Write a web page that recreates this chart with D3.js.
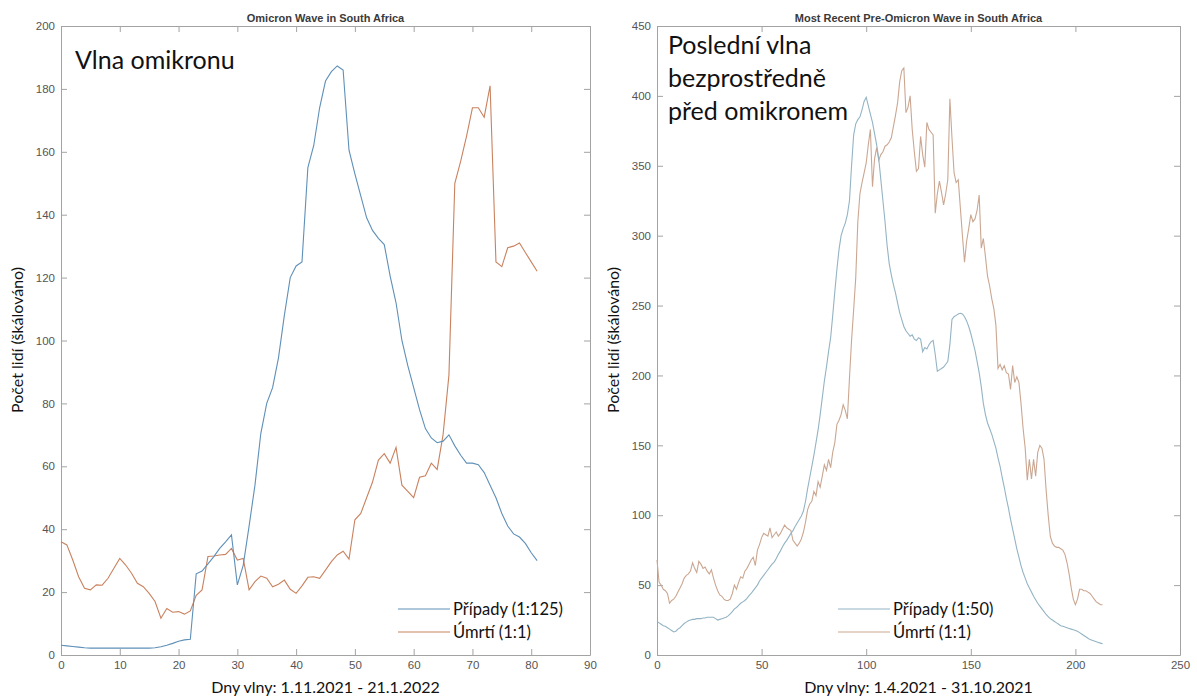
<!DOCTYPE html>
<html lang="en">

<head>
    <meta charset="utf-8">
    <script src="https://d3js.org/d3.v7.min.js"></script>
    <style>
        body { margin: 0; background: #fff; }
        .tick text { font-family: "Liberation Sans", Arial, sans-serif; font-size: 11.5px; fill: #555; }
        .tick line, .domain { stroke: #a3a3a3; }
    </style>
</head>

<body>
    <div id="chart"></div>

    <script>
        // ---- data: Omicron wave (days 0..81) ----
        const omiCases = [
            3.1, 2.9, 2.7, 2.5, 2.3, 2.2, 2.2, 2.2, 2.2, 2.2,
            2.2, 2.2, 2.2, 2.2, 2.2, 2.2, 2.3, 2.6, 3.1, 3.7,
            4.4, 4.8, 5.0, 25.8, 26.7, 29.0, 31.3, 33.9, 36.0, 38.2,
            22.3, 28.5, 41.0, 54.0, 70.5, 80.0, 85.0, 94.5, 108.0, 120.0,
            123.7, 125.0, 155.0, 162.0, 174.0, 182.5, 185.5, 187.3, 186.0, 160.5,
            153.0, 146.0, 139.0, 135.0, 132.5, 130.5, 120.5, 112.0, 100.0, 92.0,
            85.0, 78.0, 72.0, 69.0, 67.5, 68.0, 70.0, 66.5, 63.5, 61.0,
            61.0, 60.5, 58.0, 54.0, 50.0, 45.0, 41.0, 38.5, 37.5, 35.5,
            32.5, 30.0
        ];
        const omiDeaths = [
            36.0, 35.0, 30.2, 24.9, 21.2, 20.7, 22.3, 22.2, 24.4, 27.6,
            30.7, 28.6, 26.0, 22.8, 21.7, 19.6, 17.0, 11.7, 14.8, 13.6,
            13.8, 13.0, 14.0, 19.0, 20.7, 31.3, 31.5, 31.8, 32.0, 33.9,
            30.2, 30.7, 20.7, 23.3, 25.1, 24.4, 21.7, 22.5, 23.8, 20.9,
            19.6, 22.0, 24.7, 24.9, 24.4, 27.0, 29.7, 31.8, 33.0, 30.5,
            43.0, 45.0, 50.0, 55.0, 62.0, 64.0, 61.0, 66.0, 54.0, 52.0,
            50.0, 56.5, 57.0, 61.0, 59.0, 70.0, 89.0, 150.0, 157.0, 165.0,
            174.0, 174.0, 171.0, 181.0, 125.0, 123.5, 129.5, 130.0, 131.0, 128.0,
            125.0, 122.0
        ];

        // ---- data: pre-Omicron wave (days 0..213) ----
        const preCases = [
            24, 23, 22, 21, 20.5, 19.5, 18.5, 17.5, 16.5, 17,
            18.5, 19.5, 21, 22.5, 23.5, 24.5, 25, 25.5, 25.5, 26,
            26, 26, 26.5, 26.5, 27, 27, 27, 27, 26, 25,
            25.5, 26, 26.5, 27, 28, 29.5, 31, 33, 34, 35.5,
            37, 38, 39, 40.5, 42.5, 44, 46, 48, 50, 53,
            55, 57, 59, 61, 63, 65, 66.5, 69, 72, 74.5,
            77.5, 80, 82, 84.5, 87, 89, 92, 94.5, 97, 99.5,
            103, 110, 119, 127, 135, 143, 152, 161, 172, 184,
            196, 206, 217, 227, 243, 260, 276, 290, 300, 305,
            309, 315, 325, 350, 372, 380, 383, 385, 390, 396,
            399, 393, 387, 381, 373, 365, 355, 340, 325, 310,
            293, 280, 272, 265, 259, 252, 245, 240, 235, 232,
            230, 228, 229, 226, 225, 227, 226, 217, 220, 219,
            222, 224, 225, 215, 203, 204, 205, 206, 208, 210,
            222, 240, 242, 243, 244, 244.5, 244, 242, 239, 235,
            230, 224, 218, 210, 202, 192, 180, 172, 166, 162,
            158, 153, 148, 141, 135, 127, 120, 112, 105, 97,
            90, 83, 76, 70, 64, 59, 55, 51, 48, 45,
            42, 39.5, 37, 35, 33, 31, 29, 27.5, 26, 25,
            24, 23, 22, 21, 20.5, 20, 19.5, 19, 18.5, 18,
            17.5, 17, 16, 15, 14, 13, 12, 11, 10.5, 10,
            9.5, 9, 8.5, 8
        ];
        const preDeaths = [
            68, 52, 50, 47, 46, 44, 37, 39, 40, 42,
            45, 48, 51, 55, 57, 58, 60, 66, 62, 59,
            67, 65, 62, 63, 60, 58, 61, 55, 50, 46,
            43, 42, 40, 39, 39, 40, 44, 50, 47, 52,
            56, 55, 60, 62, 65, 68, 70, 64, 75, 79,
            84, 87, 86, 85, 91, 84, 86, 88, 85, 87,
            90, 93, 91, 90, 89, 82, 80, 78, 80, 83,
            88, 95, 104, 108, 110, 117, 114, 124, 120, 128,
            136, 132, 140, 134, 145, 152, 165, 168, 172, 179,
            175, 169, 198, 225, 247, 270, 310, 330, 338, 345,
            352, 365, 376, 335, 355, 363, 354, 358, 360, 364,
            365, 367, 370, 378, 386, 395, 410, 418, 420, 388,
            392, 400, 376, 360, 346, 348, 371, 358, 349, 381,
            376, 374, 372, 316, 330, 339, 331, 322, 330, 340,
            398, 370, 345, 338, 340, 320, 300, 281, 296, 305,
            315, 310, 312, 318, 329, 291, 298, 285, 271, 264,
            255, 248, 236, 205, 208, 204, 207, 202, 201, 190,
            207, 195, 199, 195, 180, 162, 148, 125, 140, 126,
            140, 128, 145, 150, 148, 140, 118, 100, 85, 80,
            78, 77, 77, 76, 75, 72, 66, 58, 48, 40,
            36, 40, 47, 47, 46, 46, 45, 44, 42, 40,
            38, 37, 36, 36
        ];

        const czFont = "Lato, 'Open Sans', sans-serif";

        const svg = d3.select("#chart").append("svg")
            .attr("width", 1197)
            .attr("height", 697);

        // draws one MATLAB-like panel
        function drawPanel(p) {
            const x = d3.scaleLinear().domain(p.xDomain).range([p.left, p.right]);
            const y = d3.scaleLinear().domain(p.yDomain).range([655, 26]);
            const g = svg.append("g");

            // box + inward ticks on all four sides
            g.append("g").attr("transform", "translate(0,655)")
                .call(d3.axisBottom(x).tickValues(p.xTicks).tickSizeInner(-6).tickSizeOuter(0).tickPadding(6));
            g.append("g").attr("transform", "translate(0,26)")
                .call(d3.axisTop(x).tickValues(p.xTicks).tickSizeInner(-6).tickSizeOuter(0).tickFormat(""));
            g.append("g").attr("transform", `translate(${p.left},0)`)
                .call(d3.axisLeft(y).tickValues(p.yTicks).tickSizeInner(-6).tickSizeOuter(0).tickPadding(6));
            g.append("g").attr("transform", `translate(${p.right},0)`)
                .call(d3.axisRight(y).tickValues(p.yTicks).tickSizeInner(-6).tickSizeOuter(0).tickFormat(""));

            const line = d3.line()
                .x((d, i) => x(i))
                .y(d => y(d));

            g.append("path").datum(p.deaths)
                .attr("fill", "none").attr("stroke", p.orange).attr("stroke-width", 1.1)
                .attr("d", line);
            g.append("path").datum(p.cases)
                .attr("fill", "none").attr("stroke", p.blue).attr("stroke-width", 1.1)
                .attr("d", line);

            const cx = (p.left + p.right) / 2;
            // title
            g.append("text").attr("x", cx).attr("y", 22).attr("text-anchor", "middle")
                .style("font-family", "'Liberation Sans', Arial, sans-serif").style("font-size", "11px")
                .style("font-weight", "bold").style("fill", "#3a3a3a")
                .text(p.title);
            // axis labels
            g.append("text").attr("x", cx).attr("y", 693).attr("text-anchor", "middle")
                .style("font-family", czFont).style("font-size", "16px").style("fill", "#111")
                .text(p.xLabel);
            g.append("text").attr("transform", `translate(${p.left - 38},340) rotate(-90)`)
                .attr("text-anchor", "middle")
                .style("font-family", czFont).style("font-size", "16px").style("fill", "#111")
                .text("Počet lidí (škálováno)");
            // annotation
            p.note.forEach((t, i) => {
                g.append("text").attr("x", p.left + p.noteDx).attr("y", p.noteY + i * 33)
                    .style("font-family", czFont).style("font-size", "25px").style("fill", "#111")
                    .text(t);
            });
            // legend
            const leg = [
                { label: p.casesLabel, color: p.blue },
                { label: "Úmrtí (1:1)", color: p.orange }
            ];
            leg.forEach((d, i) => {
                const ly = 609 + i * 23;
                g.append("line").attr("x1", p.legX).attr("x2", p.legX + 52)
                    .attr("y1", ly).attr("y2", ly)
                    .attr("stroke", d.color).attr("stroke-width", 1.2);
                g.append("text").attr("x", p.legX + 55).attr("y", ly + 6)
                    .style("font-family", czFont).style("font-size", "16.5px").style("fill", "#111")
                    .text(d.label);
            });
        }

        drawPanel({
            left: 61, right: 590,
            xDomain: [0, 90], yDomain: [0, 200],
            xTicks: d3.range(0, 91, 10), yTicks: d3.range(0, 201, 20),
            cases: omiCases, deaths: omiDeaths,
            blue: "#5f90b8", orange: "#c9825f",
            title: "Omicron Wave in South Africa",
            xLabel: "Dny vlny: 1.11.2021 - 21.1.2022",
            note: ["Vlna omikronu"], noteDx: 14, noteY: 69,
            casesLabel: "Případy (1:125)", legX: 398
        });

        drawPanel({
            left: 657, right: 1180,
            xDomain: [0, 250], yDomain: [0, 450],
            xTicks: d3.range(0, 251, 50), yTicks: d3.range(0, 451, 50),
            cases: preCases, deaths: preDeaths,
            blue: "#94b4c4", orange: "#cba792",
            title: "Most Recent Pre-Omicron Wave in South Africa",
            xLabel: "Dny vlny: 1.4.2021 - 31.10.2021",
            note: ["Poslední vlna", "bezprostředně", "před omikronem"], noteDx: 11, noteY: 54,
            casesLabel: "Případy (1:50)", legX: 838
        });
    </script>
</body>

</html>
